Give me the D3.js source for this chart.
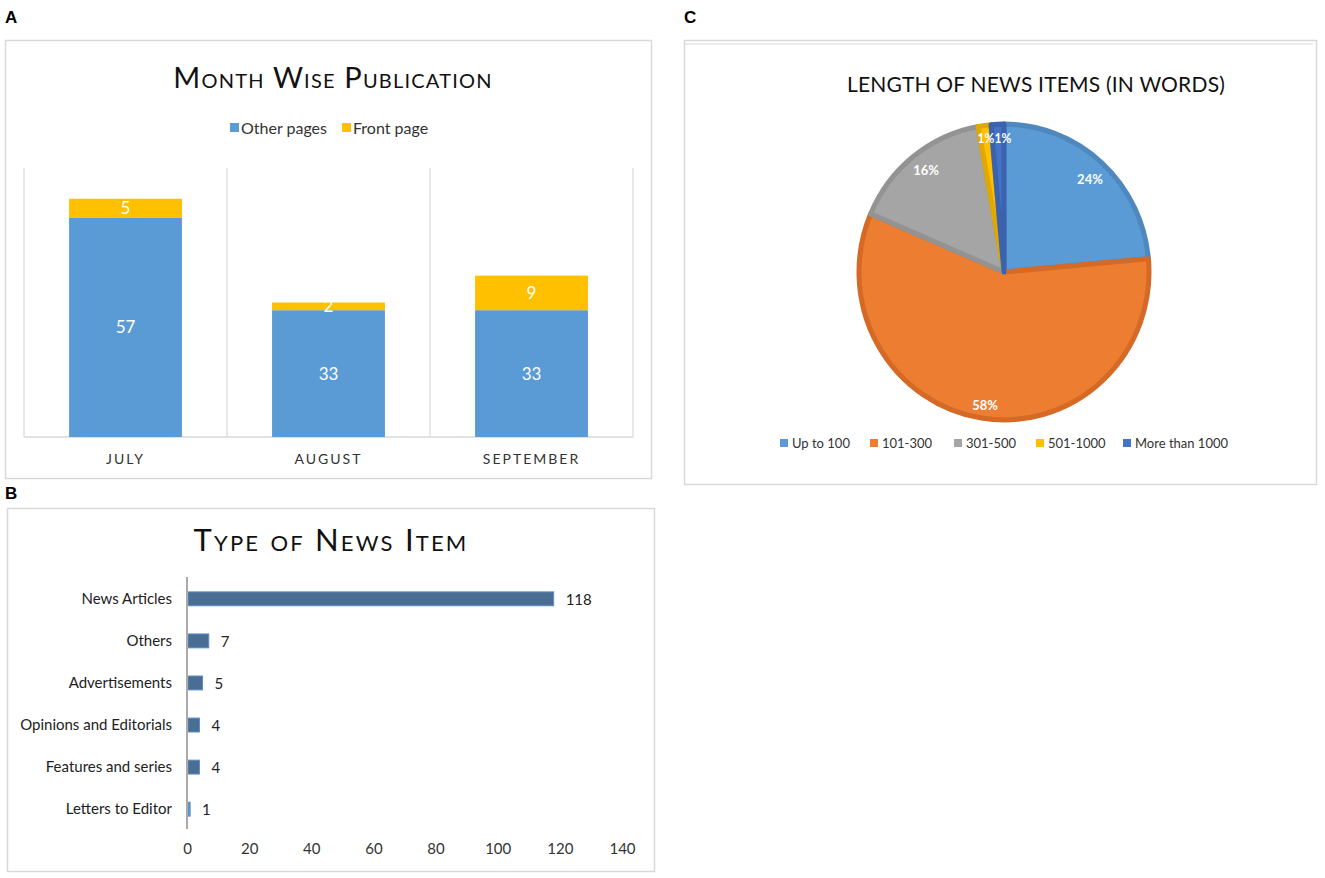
<!DOCTYPE html>
<html><head><meta charset="utf-8">
<script src="https://cdn.jsdelivr.net/npm/d3@7"></script>
<style>
body{margin:0;background:#fff;}
svg{display:block;font-family:Lato, "Open Sans", sans-serif;}
</style></head>
<body>
<svg id="c" width="1325" height="878"></svg>
<script>
// ---- Data ----
const months = ["JULY", "AUGUST", "SEPTEMBER"];
const otherPages = [57, 33, 33];
const frontPage = [5, 2, 9];
const monthSeries = ["Other pages", "Front page"];

const newsTypes = ["News Articles", "Others", "Advertisements", "Opinions and Editorials", "Features and series", "Letters to Editor"];
const newsCounts = [118, 7, 5, 4, 4, 1];
const typeTicks = [0, 20, 40, 60, 80, 100, 120, 140];

const lengthCats = ["Up to 100", "101-300", "301-500", "501-1000", "More than 1000"];
const lengthCounts = [33, 81, 22, 2, 2];
const lengthLabels = ["24%", "58%", "16%", "1%", "1%"];

const svg = d3.select("#c");

// Panel letters
[["A", 5, 23], ["B", 5, 499], ["C", 684, 23]].forEach(([t, x, y]) => {
  svg.append("text").attr("x", x).attr("y", y).text(t)
    .attr("font-family", "Liberation Sans, Arial, sans-serif").attr("font-weight", "bold")
    .attr("font-size", 17).attr("fill", "#000");
});

// ===== Panel A =====
svg.append("rect").attr("x", 5.5).attr("y", 40.5).attr("width", 646).attr("height", 438)
  .attr("fill", "#fff").attr("stroke", "#d9d9d9").attr("stroke-width", 1.5);
svg.append("text").attr("x", 333).attr("y", 88).attr("text-anchor", "middle")
  .attr("font-size", 29).attr("font-variant", "small-caps").attr("letter-spacing", 1.2)
  .attr("fill", "#111").text("Month Wise Publication");

const aColors = ["#5b9bd5", "#ffc000"];
const legA = [[234, monthSeries[0]], [346, monthSeries[1]]];
legA.forEach(([x, t], i) => {
  svg.append("rect").attr("x", x - 4).attr("y", 123).attr("width", 9).attr("height", 9).attr("fill", aColors[i]);
  svg.append("text").attr("x", x + 7).attr("y", 133.5).attr("font-size", 16).attr("fill", "#333").text(t);
});

const xA = d3.scaleBand().domain(months).range([24, 633]).paddingInner(0).paddingOuter(0);
const yA = d3.scaleLinear().domain([0, 70]).range([437, 168]);
// category separators
[24, 227, 430, 633].forEach(x => {
  svg.append("line").attr("x1", x).attr("x2", x).attr("y1", 168).attr("y2", 437)
    .attr("stroke", "#d9d9d9").attr("stroke-width", 1.2);
});
svg.append("line").attr("x1", 24).attr("x2", 633).attr("y1", 437).attr("y2", 437)
  .attr("stroke", "#d9d9d9").attr("stroke-width", 1.5);

const bw = xA.bandwidth() * 0.556;
const gA = svg.append("g");
months.forEach((m, i) => {
  const x0 = xA(m) + (xA.bandwidth() - bw) / 2;
  const cx = xA(m) + xA.bandwidth() / 2;
  const o = otherPages[i], f = frontPage[i];
  gA.append("rect").attr("x", x0).attr("y", yA(o)).attr("width", bw).attr("height", yA(0) - yA(o)).attr("fill", aColors[0]);
  gA.append("rect").attr("x", x0).attr("y", yA(o + f)).attr("width", bw).attr("height", yA(o) - yA(o + f)).attr("fill", aColors[1]);
  gA.append("text").attr("x", cx).attr("y", (yA(0) + yA(o)) / 2 + 6).attr("text-anchor", "middle")
    .attr("font-size", 17).attr("fill", "#fff").text(o);
  gA.append("text").attr("x", cx).attr("y", (yA(o) + yA(o + f)) / 2 + 6).attr("text-anchor", "middle")
    .attr("font-size", 17).attr("fill", "#fff").text(f);
  gA.append("text").attr("x", cx).attr("y", 464).attr("text-anchor", "middle")
    .attr("font-size", 14).attr("letter-spacing", 2).attr("fill", "#333").text(m);
});

// ===== Panel B =====
svg.append("rect").attr("x", 7.5).attr("y", 508.5).attr("width", 647).attr("height", 363)
  .attr("fill", "#fff").attr("stroke", "#d9d9d9").attr("stroke-width", 1.5);
svg.append("text").attr("x", 331).attr("y", 551).attr("text-anchor", "middle")
  .attr("font-size", 31).attr("font-variant", "small-caps").attr("letter-spacing", 2.2)
  .attr("fill", "#111").text("Type of News Item");

const xB = d3.scaleLinear().domain([0, 140]).range([187, 622]);
const yB = d3.scaleBand().domain(newsTypes).range([578, 830]).paddingInner(0.67).paddingOuter(0.33);
const gB = svg.append("g");
newsTypes.forEach((t, i) => {
  const v = newsCounts[i];
  const y = yB(t), h = yB.bandwidth();
  gB.append("rect").attr("x", xB(0) + 1).attr("y", y).attr("width", Math.max(xB(v) - xB(0) - 1, 1)).attr("height", h)
    .attr("fill", v > 1 ? "#4a6d94" : "#5b9bd5").attr("stroke", "#5b8cc6").attr("stroke-width", 1);
  gB.append("text").attr("x", 172).attr("y", y + h / 2 + 5).attr("text-anchor", "end")
    .attr("font-size", 15).attr("fill", "#222").text(t);
  gB.append("text").attr("x", xB(v) + 12).attr("y", y + h / 2 + 6).attr("text-anchor", "start")
    .attr("font-size", 15).attr("fill", "#222").text(v);
});
svg.append("line").attr("x1", xB(0)).attr("x2", xB(0)).attr("y1", 577).attr("y2", 829)
  .attr("stroke", "#aaa").attr("stroke-width", 2);
const axB = svg.append("g").attr("transform", "translate(0,835)")
  .call(d3.axisBottom(xB).tickValues(typeTicks).tickSize(0).tickPadding(8));
axB.select(".domain").remove();
axB.selectAll("text").attr("font-size", 15).attr("fill", "#333").attr("font-family", "Lato, sans-serif");

// ===== Panel C =====
svg.append("rect").attr("x", 684.5).attr("y", 40.5).attr("width", 632).attr("height", 444)
  .attr("fill", "#fff").attr("stroke", "#d9d9d9").attr("stroke-width", 1.5);
svg.append("line").attr("x1", 684).attr("x2", 1313).attr("y1", 44).attr("y2", 44)
  .attr("stroke", "#d9d9d9").attr("stroke-width", 1.2);
svg.append("text").attr("x", 1036).attr("y", 92).attr("text-anchor", "middle")
  .attr("font-size", 21).attr("letter-spacing", 0.2).attr("fill", "#111").text("LENGTH OF NEWS ITEMS (IN WORDS)");

const cFill = ["#5b9bd5", "#ed7d31", "#a5a5a5", "#ffc000", "#4472c4"];
const cStroke = ["#4f88bf", "#d46a25", "#939393", "#e0a800", "#3a62ae"];
const pie = d3.pie().sort(null).value(d => d)(lengthCounts);
const R = 147;
const arc = d3.arc().innerRadius(0).outerRadius(R - 2);
const gC = svg.append("g").attr("transform", "translate(1004,272) scale(1,1.02)");
gC.selectAll("path").data(pie).join("path")
  .attr("d", arc).attr("fill", (d, i) => cFill[i]).attr("stroke", (d, i) => cStroke[i])
  .attr("stroke-width", 5).attr("stroke-linejoin", "round");
const labPos = [[86, -91], [-19, 130], [-78, -100], [-18, -131], [-1, -131]];
const labSize = [13, 13, 13, 12, 12];
pie.forEach((d, i) => {
  gC.append("text").attr("x", labPos[i][0]).attr("y", labPos[i][1] + 5).attr("text-anchor", "middle")
    .attr("font-size", labSize[i]).attr("font-weight", "bold").attr("fill", "#fff").text(lengthLabels[i]);
});

const legC = [784, 874, 958, 1040, 1127];
lengthCats.forEach((t, i) => {
  svg.append("rect").attr("x", legC[i] - 4).attr("y", 439).attr("width", 8).attr("height", 8).attr("fill", cFill[i]);
  svg.append("text").attr("x", legC[i] + 8).attr("y", 448).attr("font-size", 13).attr("fill", "#333").text(t);
});
</script>
</body></html>
